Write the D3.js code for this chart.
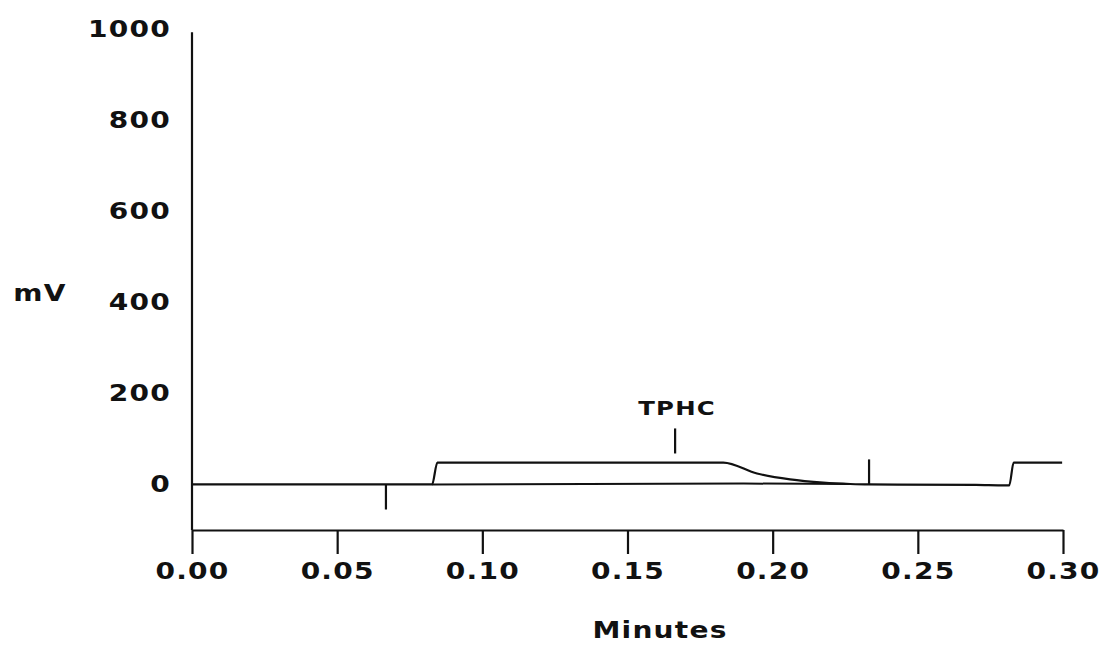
<!DOCTYPE html>
<html>
<head>
<meta charset="utf-8">
<script src="https://cdn.jsdelivr.net/npm/d3@7"></script>
<style>
  html, body { margin: 0; padding: 0; background: #fff; }
  svg text { font-family: "DejaVu Sans", sans-serif; font-weight: bold; fill: #111; }
</style>
</head>
<body>
<svg id="chart" width="1111" height="657"></svg>
<script>
// Detector trace (minutes, mV)
const traceTime   = [0.000, 0.0827, 0.0845, 0.183, 0.1946, 0.206, 0.2174, 0.2267, 0.2330, 0.2700, 0.2800, 0.2815, 0.2830, 0.2997];
const traceSignal = [0,     0,      48,     48,    24,     11,    4,      1,      0,      -1,     -2,     -2,     48,     48];
// Integration baseline drawn under the peak
const baseTime   = [0.0827, 0.190, 0.2267];
const baseSignal = [0,      2,     1];
// Event markers: time, from mV, to mV
const markerTime = [0.0668, 0.1664, 0.2332];
const markerFrom = [0,      68,     0];
const markerTo   = [-55,    123,    55];
const peakLabels = ["", "TPHC", ""];
// Axes
const xTicks = [0.00, 0.05, 0.10, 0.15, 0.20, 0.25, 0.30];
const yTicks = [0, 200, 400, 600, 800, 1000];
const xTitle = "Minutes";
const yTitle = "mV";

const SX = 1.22; // horizontal stretch of the wide lettering
const svg = d3.select("#chart");
const x = d3.scaleLinear().domain([0, 0.30]).range([192, 1063]);
const y = d3.scaleLinear().domain([-100, 1000]).range([530, 29]);

// X axis
const xAxis = svg.append("g")
  .attr("transform", `translate(0,${y(-100)})`)
  .call(d3.axisBottom(x).tickValues(xTicks).tickSize(24).tickSizeOuter(0).tickPadding(9).tickFormat(d3.format(".2f")));
xAxis.select(".domain").attr("stroke", "#111").attr("stroke-width", 2.2);
xAxis.selectAll(".tick line").attr("stroke", "#111").attr("stroke-width", 2.2);
xAxis.selectAll(".tick text").attr("font-size", 23).attr("letter-spacing", 1)
  .attr("transform", `scale(${SX},1)`)
  .style("font-family", "DejaVu Sans").style("font-weight", "bold").attr("fill", "#111");

// Y axis (no ticks)
const yAxis = svg.append("g")
  .attr("transform", `translate(${x(0)},0)`)
  .call(d3.axisLeft(y).tickValues(yTicks).tickSize(0).tickPadding(22).tickFormat(d3.format("d")));
yAxis.select(".domain").attr("stroke", "#111").attr("stroke-width", 2.2)
  .attr("d", `M0,${y(993)}V${y(-100)}`);
yAxis.selectAll(".tick text").attr("font-size", 23).attr("letter-spacing", 1)
  .attr("x", -21 / SX).attr("transform", `scale(${SX},1)`)
  .style("font-family", "DejaVu Sans").style("font-weight", "bold").attr("fill", "#111");

// Titles
svg.append("text").attr("transform", `translate(660,630) scale(${SX},1)`).attr("dy", "0.35em").attr("text-anchor", "middle")
  .attr("font-size", 23).attr("letter-spacing", 1).text(xTitle);
svg.append("text").attr("transform", `translate(40,293) scale(${SX},1)`).attr("dy", "0.35em").attr("text-anchor", "middle")
  .attr("font-size", 23).attr("letter-spacing", 1).text(yTitle);

// Trace
const line = d3.line().x(d => x(d[0])).y(d => y(d[1]));
svg.append("path")
  .datum(d3.zip(baseTime, baseSignal))
  .attr("d", line).attr("fill", "none").attr("stroke", "#111").attr("stroke-width", 2);
svg.append("path")
  .datum(d3.zip(traceTime, traceSignal))
  .attr("d", d3.line().x(d => x(d[0])).y(d => y(d[1])).curve(d3.curveMonotoneX))
  .attr("fill", "none").attr("stroke", "#111").attr("stroke-width", 2.2);

// Markers
const markers = d3.range(markerTime.length).map(i => ({t: markerTime[i], a: markerFrom[i], b: markerTo[i], label: peakLabels[i]}));
svg.selectAll(".marker").data(markers).join("line")
  .attr("x1", d => x(d.t)).attr("x2", d => x(d.t))
  .attr("y1", d => y(d.a)).attr("y2", d => y(d.b))
  .attr("stroke", "#111").attr("stroke-width", 2.2);
svg.selectAll(".plabel").data(markers.filter(d => d.label)).join("text")
  .attr("transform", d => `translate(${x(d.t) + 2},${y(d.b) - 13}) scale(${SX},1)`)
  .attr("text-anchor", "middle").attr("font-size", 20).attr("letter-spacing", 1)
  .text(d => d.label);
</script>
</body>
</html>
